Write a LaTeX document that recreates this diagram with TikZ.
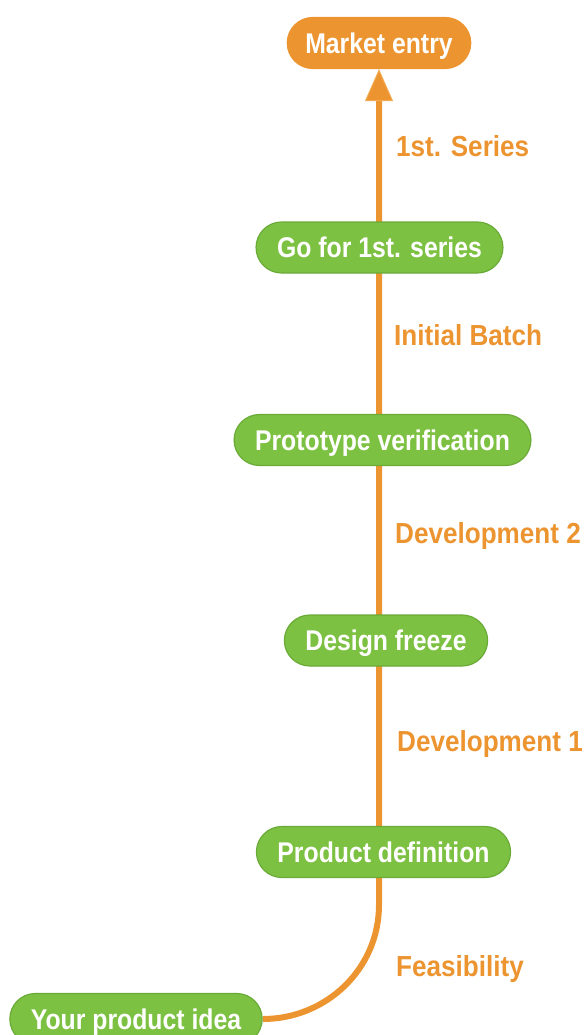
\documentclass[tikz,border=0pt]{standalone}
\usepackage{fontspec}
\setmainfont{Liberation Sans}
\newfontfamily\stagefont{Liberation Sans}[FakeStretch=0.87]
\newfontfamily\phasefont{Liberation Sans}[FakeStretch=0.9]
\usetikzlibrary{arrows.meta,backgrounds}

\definecolor{stagegreen}{HTML}{7DC142}
\definecolor{stageborder}{HTML}{6AAB38}
\definecolor{flowamber}{HTML}{EC9430}
\definecolor{flowedge}{HTML}{F4AA50}

\newcommand\stagetextstyle{\stagefont\fontsize{28.5}{32}\selectfont\bfseries}
\newcommand\phasetextstyle{\phasefont\fontsize{29}{32}\selectfont\bfseries}

\tikzset{
  stage/.style={draw=stageborder, line width=1.2pt, fill=stagegreen, text=white,
    rounded corners=25.5pt, minimum height=51pt, inner xsep=21pt,
    text height=20.4pt, text depth=0pt, font=\stagetextstyle},
  goal/.style={stage, draw=flowamber, fill=flowamber, inner xsep=18pt},
  phase/.style={anchor=west, text=flowamber, inner sep=0pt,
    text height=20.8pt, text depth=0pt, font=\phasetextstyle},
  flow/.style={draw=flowamber, line width=6pt,
    -{Triangle[width=28pt,length=32pt,fill=flowamber,color=flowedge,line width=1pt]}},
}

\begin{document}
\begin{tikzpicture}[x=1pt, y=-1pt]
  \useasboundingbox (0,0) rectangle (587,1035);

  \node[goal]  (market)     at (379,43)    {Market entry};
  \node[stage] (series)     at (379.5,247.5) {Go for 1st. series};
  \node[stage] (prototype)  at (382.5,440) {Prototype verification};
  \node[stage] (freeze)     at (386,640.5) {Design freeze};
  \node[stage] (definition) at (383.5,852) {Product definition};
  \node[stage] (idea)       at (136,1019)  {Your product idea};

  \coordinate (bend) at (379,905);

  \begin{scope}[on background layer]
    \draw[flow] (idea.east) to[out=0, in=-90] (bend) -- (bend |- market.south);
  \end{scope}

  \node[phase] (pseries)  at (396,146.5) {1st. Series};
  \node[phase] (pbatch)   at (394,335) {Initial Batch};
  \node[phase] (pdev2)    at (395,533) {Development 2};
  \node[phase] (pdev1)    at (397,741) {Development 1};
  \node[phase] (pfeas)    at (396,966) {Feasibility};
\end{tikzpicture}
\end{document}
